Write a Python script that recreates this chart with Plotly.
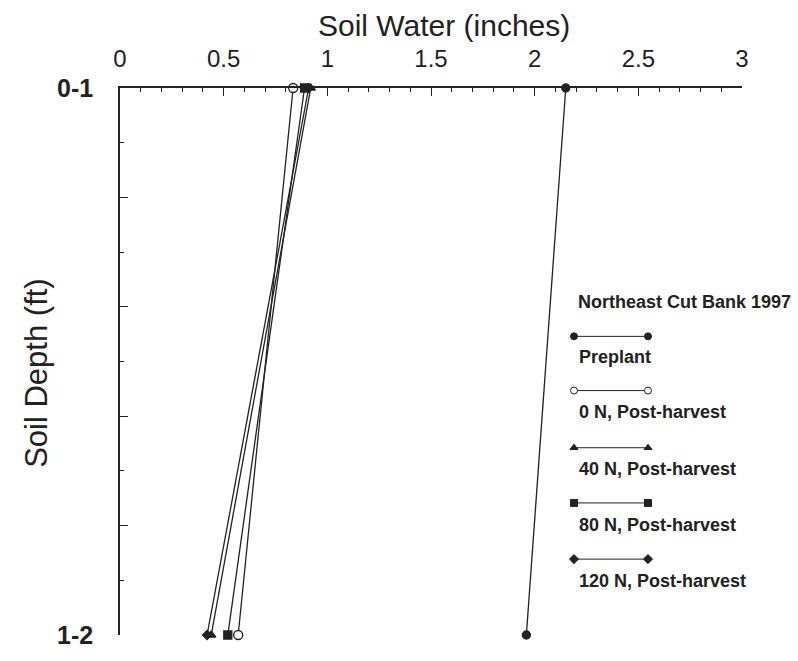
import plotly.graph_objects as go

# ---- data ----
depth_pos = [0, 1]                 # 0 = "0-1" ft (top), 1 = "1-2" ft (bottom)
depth_labels = ["0-1", "1-2"]
preplant = [2.15, 1.96]
n0_post = [0.835, 0.57]
n40_post = [0.92, 0.44]
n80_post = [0.89, 0.52]
n120_post = [0.91, 0.42]

series_names = ["Preplant", "0 N, Post-harvest", "40 N, Post-harvest",
                "80 N, Post-harvest", "120 N, Post-harvest"]
series_values = [preplant, n0_post, n40_post, n80_post, n120_post]
series_symbols = ["circle", "circle", "triangle-up", "square", "diamond"]
series_fill = ["#222222", "white", "#222222", "#222222", "#222222"]
series_size = [8, 9, 8, 8, 7]

x_ticks = [0, 0.5, 1, 1.5, 2, 2.5, 3]
x_ticktext = ["0", "0.5", "1", "1.5", "2", "2.5", "3"]

INK = "#222222"
FONT = "Liberation Sans, Arial, Helvetica, sans-serif"

# plot area in pixels (used only to place legend/titles)
PX_L, PX_R, PX_T, PX_B = 120, 742, 88, 643


def px_to_paper(px, py):
    return (px - PX_L) / (PX_R - PX_L), (PX_B - py) / (PX_B - PX_T)


fig = go.Figure()

for name, vals, sym, fill, sz in zip(series_names, series_values, series_symbols,
                                     series_fill, series_size):
    fig.add_trace(go.Scatter(
        x=vals, y=depth_pos, mode="lines+markers", name=name,
        line=dict(color=INK, width=1.3),
        marker=dict(symbol=sym, size=sz, color=fill,
                    line=dict(color=INK, width=1.3)),
        cliponaxis=False, showlegend=False,
    ))

# ---- custom legend (pixel-coordinate overlay axes) ----
leg_x0, leg_x1 = 574, 648
leg_line_y = [340, 395, 453, 509, 566]
leg_text_y = [361, 417, 475, 531, 588]
for name, sym, fill, ly in zip(series_names, series_symbols, series_fill, leg_line_y):
    fig.add_trace(go.Scatter(
        x=[leg_x0, leg_x1], y=[ly, ly], mode="lines+markers",
        xaxis="x2", yaxis="y2",
        line=dict(color=INK, width=1),
        marker=dict(symbol=sym, size=7, color=fill,
                    line=dict(color=INK, width=1)),
        cliponaxis=False, showlegend=False, hoverinfo="skip",
    ))


def ann(px, py, text, size, xanchor="left", bold=False, angle=0):
    x, y = px_to_paper(px, py)
    return dict(x=x, y=y, xref="paper", yref="paper", text=text,
                showarrow=False, xanchor=xanchor, yanchor="middle",
                textangle=angle,
                font=dict(family=FONT, size=size, color=INK,
                          weight="bold" if bold else "normal"))


annotations = [
    ann(576, 305, "Northeast Cut Bank 1997", 18, bold=True),
    ann(444, 25, "Soil Water (inches)", 30, xanchor="center"),
    ann(37, 377, "Soil Depth (ft)", 31, xanchor="center", angle=-90),
]
for name, ty in zip(series_names, leg_text_y):
    annotations.append(ann(577, ty, name, 18, bold=True))

fig.update_layout(
    width=798, height=661,
    margin=dict(l=PX_L, r=798 - PX_R, t=PX_T, b=661 - PX_B),
    paper_bgcolor="white", plot_bgcolor="white",
    showlegend=False,
    annotations=annotations,
    xaxis=dict(
        side="top", range=[0, 3], showgrid=False, zeroline=False,
        showline=True, linecolor=INK, linewidth=1.5,
        ticks="inside", ticklen=8, tickwidth=1.2, tickcolor=INK,
        tickvals=x_ticks, ticktext=x_ticktext,
        tickfont=dict(family=FONT, size=24, color=INK),
        ticklabelstandoff=10,
        minor=dict(dtick=0.1, ticks="inside", ticklen=4, tickwidth=1, tickcolor=INK),
    ),
    yaxis=dict(
        range=[1, 0], showgrid=False, zeroline=False,
        showline=True, linecolor=INK, linewidth=1.5,
        ticks="inside", ticklen=8, tickwidth=1.2, tickcolor=INK,
        tickvals=[0, 0.2, 0.4, 0.6, 0.8, 1],
        ticktext=[depth_labels[0], "", "", "", "", depth_labels[1]],
        tickfont=dict(family=FONT, size=25, color=INK, weight="bold"),
        ticklabelstandoff=20,
        minor=dict(dtick=0.1, ticks="inside", ticklen=4, tickwidth=1, tickcolor=INK),
    ),
    xaxis2=dict(range=[PX_L, PX_R], overlaying="x", anchor="y2", visible=False,
                fixedrange=True),
    yaxis2=dict(range=[PX_B, PX_T], overlaying="y", anchor="x2", visible=False,
                fixedrange=True),
)

fig.write_html("out.html")
